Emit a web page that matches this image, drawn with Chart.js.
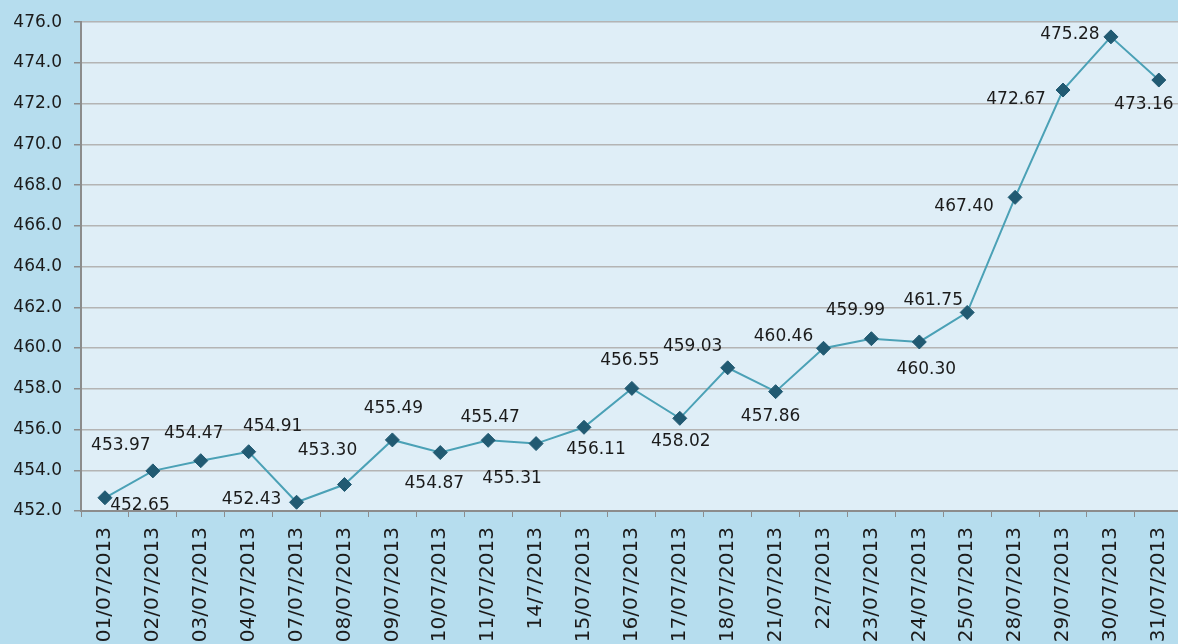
<!DOCTYPE html>
<html>
<head>
<meta charset="utf-8">
<script src="https://cdn.jsdelivr.net/npm/chart.js@4.4.1/dist/chart.umd.min.js"></script>
<style>
  html, body { margin: 0; padding: 0; background: #b6ddee; overflow: hidden; }
  #wrap { width: 1193px; height: 644px; position: relative; }
</style>
</head>
<body>
<div id="wrap"><canvas id="chart"></canvas></div>
<script>
const dates = ['01/07/2013', '02/07/2013', '03/07/2013', '04/07/2013', '07/07/2013', '08/07/2013', '09/07/2013', '10/07/2013', '11/07/2013', '14/7/2013', '15/07/2013', '16/07/2013', '17/07/2013', '18/07/2013', '21/07/2013', '22/7/2013', '23/07/2013', '24/07/2013', '25/07/2013', '28/07/2013', '29/07/2013', '30/07/2013', '31/07/2013'];
const prices = [452.65, 453.97, 454.47, 454.91, 452.43, 453.30, 455.49, 454.87, 455.47, 455.31, 456.11, 458.02, 456.55, 459.03, 457.86, 459.99, 460.46, 460.30, 461.75, 467.40, 472.67, 475.28, 473.16];
// label text as printed next to each marker in the original
const pointLabels = ['452.65', '453.97', '454.47', '454.91', '452.43', '453.30', '455.49', '454.87', '455.47', '455.31', '456.11', '456.55', '458.02', '459.03', '457.86', '460.46', '459.99', '460.30', '461.75', '467.40', '472.67', '475.28', '473.16'];
// label offsets from the marker (px)
const labelShift = [[35, 8], [-32, -25], [-7, -27], [24, -25], [-45, -3], [-17, -34], [1, -31], [-6, 31], [2, -23], [-24, 35], [12, 22], [-2, -28], [1, 23], [-35, -21], [-5, 25], [-40, -12], [-16, -28], [7, 28], [-34, -12], [-51, 9], [-47, 10], [-41, -2], [-15, 25]];
const yMin = 452;
const yMax = 476;
const yStep = 2;

const plotBg = {
  id: 'plotBg',
  beforeDraw(chart) {
    const { ctx, chartArea: a } = chart;
    ctx.save();
    ctx.fillStyle = '#dfeef7';
    ctx.fillRect(a.left, a.top, a.right - a.left, a.bottom - a.top);
    ctx.restore();
  }
};

const valueLabels = {
  id: 'valueLabels',
  afterDatasetsDraw(chart) {
    const ctx = chart.ctx;
    const meta = chart.getDatasetMeta(0);
    ctx.save();
    ctx.font = '17px "DejaVu Sans"';
    ctx.fillStyle = '#1b1b1b';
    ctx.textAlign = 'center';
    ctx.textBaseline = 'middle';
    meta.data.forEach((pt, i) => {
      const [dx, dy] = labelShift[i];
      ctx.fillText(pointLabels[i], pt.x + dx, pt.y + dy);
    });
    ctx.restore();
  }
};

new Chart(document.getElementById('chart'), {
  type: 'line',
  data: {
    labels: dates,
    datasets: [{
      data: prices,
      borderColor: '#4ba1b6',
      borderWidth: 2,
      pointStyle: 'rectRot',
      pointRadius: 7,
      pointBackgroundColor: '#215a72',
      pointBorderColor: '#215a72',
      pointBorderWidth: 1,
      tension: 0
    }]
  },
  options: {
    responsive: true,
    maintainAspectRatio: false,
    animation: false,
    layout: { padding: { top: 12, right: 0, left: 0, bottom: 0 } },
    plugins: { legend: { display: false }, tooltip: { enabled: false } },
    scales: {
      x: {
        offset: true,
        grid: { offset: true, drawOnChartArea: false, drawTicks: true, tickLength: 6, color: '#8c8c8c' },
        border: { color: '#8c8c8c', width: 2 },
        ticks: {
          autoSkip: false, minRotation: 90, maxRotation: 90, padding: 10,
          color: '#1b1b1b', font: { family: 'DejaVu Sans', size: 20 }
        },
        afterFit(scale) { scale.height = 133; }
      },
      y: {
        min: yMin, max: yMax,
        grid: { color: '#b4b4b4', lineWidth: 1.5, tickLength: 7, tickColor: '#8c8c8c' },
        border: { color: '#8c8c8c', width: 2 },
        ticks: {
          stepSize: yStep, padding: 12,
          color: '#1b1b1b', font: { family: 'DejaVu Sans', size: 17 },
          callback: (v) => Number(v).toFixed(1)
        },
        afterFit(scale) { scale.width = 81; }
      }
    }
  },
  plugins: [plotBg, valueLabels]
});
</script>
</body>
</html>
